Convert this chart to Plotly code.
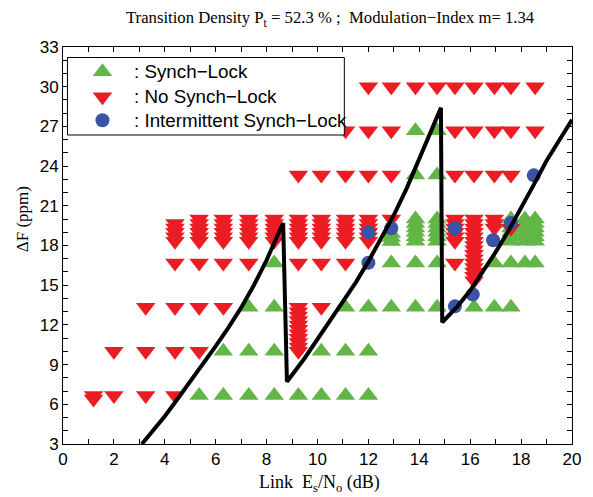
import plotly.graph_objects as go

# ---------------- data ----------------
# Synch-Lock (green, triangle-up) single points
lock_x = [5.35, 6.3, 7.3, 8.3, 9.25, 10.15, 11.1, 12.0,
          6.3, 7.3, 8.3, 10.15, 11.1, 12.0,
          7.3, 8.3, 11.1, 12.0, 12.9, 13.85, 14.7, 16.15, 16.95, 17.6,
          8.3, 12.9, 13.85, 14.7, 16.95, 17.6, 18.15, 18.55,
          12.9, 12.9, 12.9,
          13.85, 14.7, 13.85, 14.7]
lock_y = [6.67] * 8 + [10.0] * 6 + [13.33] * 10 + [16.67] * 8 + \
         [18.9, 18.6, 18.3] + [23.33, 23.33, 26.67, 26.67]
# Synch-Lock stacked columns around 18-20 ppm
lock_stack_cols = [13.85, 14.7, 17.6, 18.15, 18.55]
stack_levels = [20.0, 19.67, 19.33, 19.0, 18.67, 18.33]

# No Synch-Lock (red, triangle-down) single points
nolock_x = [1.2, 1.2, 2.0, 3.25, 4.4,
            2.0, 3.25, 4.4, 5.35,
            3.25, 4.4, 5.35, 6.3, 10.15,
            4.4, 5.35, 6.3, 7.3, 9.25, 10.15, 11.1, 15.4,
            12.9, 17.6,
            9.25, 10.15, 11.1, 12.0, 12.9, 15.4, 16.15, 16.95, 17.6,
            11.1, 12.0, 12.9, 15.4, 16.15, 16.95, 17.6, 18.55,
            12.0, 12.9, 13.85, 14.7, 15.4, 16.15, 16.95, 17.6, 18.55]
nolock_y = [6.67, 6.4, 6.67, 6.67, 6.67,
            10.0, 10.0, 10.0, 10.0,
            13.33, 13.33, 13.33, 13.33, 13.33,
            16.67, 16.67, 16.67, 16.67, 16.67, 16.67, 16.67, 16.67,
            20.0, 19.3] + [23.33] * 9 + [26.67] * 8 + [30.0] * 9
# No Synch-Lock stacked columns
nolock_stack_cols = [5.35, 6.3, 7.3, 8.3, 9.25, 10.15, 11.1, 12.0, 15.4]
nolock_stack_c4_x = 4.4
nolock_stack_c4_y = [19.67, 19.33, 19.0, 18.67, 18.33]
nolock_stack_c9_x = 9.25
nolock_stack_c9_y = [13.33, 13.0, 12.67, 12.33, 12.0, 11.67, 11.33, 11.0, 10.67, 10.33, 10.0]
nolock_stack_c17_x = 16.15
nolock_stack_c17_y = [20.0, 19.67, 19.33, 19.0, 18.67, 18.33, 18.0, 17.67, 17.33,
                      17.0, 16.67, 16.33, 16.0, 15.67, 15.33]
nolock_stack_c18_x = 16.95
nolock_stack_c18_y = [20.0, 19.67, 19.33]

# Intermittent Synch-Lock (blue circles)
inter_x = [12.0, 12.0, 12.9, 15.4, 15.4, 16.1, 16.9, 17.6, 18.5]
inter_y = [19.0, 16.7, 19.3, 19.3, 13.4, 14.3, 18.4, 19.7, 23.3]

# Boundary curve (sawtooth)
curve_x = [3.1, 3.5, 4.0, 4.5, 5.0, 5.5, 6.0, 6.5, 7.0, 7.5, 8.0, 8.65,
           8.8, 9.5, 10.0, 10.5, 11.0, 11.5, 12.0, 12.5, 13.0, 13.5, 14.0, 14.5, 14.85,
           14.9, 15.5, 16.0, 16.5, 17.0, 17.5, 18.0, 18.5, 19.0, 19.5, 20.0]
curve_y = [3.0, 3.9, 5.1, 6.4, 7.7, 9.0, 10.4, 11.8, 13.3, 15.0, 16.9, 19.7,
           7.7, 9.5, 10.9, 12.3, 13.7, 15.2, 16.8, 18.5, 20.3, 22.3, 24.5, 26.8, 28.4,
           12.2, 13.4, 14.6, 16.0, 17.5, 19.1, 20.8, 22.6, 24.4, 26.0, 27.5]

x_ticks = [0, 2, 4, 6, 8, 10, 12, 14, 16, 18, 20]
y_ticks = [3, 6, 9, 12, 15, 18, 21, 24, 27, 30, 33]

legend_labels = [": Synch\u2212Lock", ": No Synch\u2212Lock", ": Intermittent Synch\u2212Lock"]

# ---------------- assemble ----------------
GREEN = "#62B646"
RED = "#EC1C24"
BLUE = "#3A53A4"
SYMBOLS = ["triangle-up", "triangle-down", "circle"]
COLORS = [GREEN, RED, BLUE]
SIZES = [17, 17, 14]

g_x = list(lock_x)
g_y = list(lock_y)
for c in lock_stack_cols:
    for lv in stack_levels:
        g_x.append(c)
        g_y.append(lv)

r_x = list(nolock_x)
r_y = list(nolock_y)
for c in nolock_stack_cols:
    for lv in stack_levels:
        r_x.append(c)
        r_y.append(lv)
for cx, cys in [(nolock_stack_c4_x, nolock_stack_c4_y),
                (nolock_stack_c9_x, nolock_stack_c9_y),
                (nolock_stack_c17_x, nolock_stack_c17_y),
                (nolock_stack_c18_x, nolock_stack_c18_y)]:
    for v in cys:
        r_x.append(cx)
        r_y.append(v)

# page body has an 8px margin: work in reference pixels and shift by OFF
OFF = 8
W, H = 593 - OFF, 497 - OFF
PL, PT, PR, PB = 63 - OFF, 47 - OFF, 575 - OFF, 444 - OFF   # plot area in figure px
PW, PH = PR - PL, PB - PT


def px_x(xr):  # reference px -> paper / overlay x
    return (xr - OFF - PL) / PW


def px_y(yr):  # reference px -> paper / overlay y
    return (PB - (yr - OFF)) / PH


fig = go.Figure()
fig.add_trace(go.Scatter(x=g_x, y=g_y, mode="markers", name=legend_labels[0],
                         showlegend=False,
                         marker=dict(symbol=SYMBOLS[0], size=SIZES[0], color=GREEN,
                                     opacity=1, line=dict(width=0))))
fig.add_trace(go.Scatter(x=r_x, y=r_y, mode="markers", name=legend_labels[1],
                         showlegend=False,
                         marker=dict(symbol=SYMBOLS[1], size=SIZES[1], color=RED,
                                     opacity=1, line=dict(width=0))))
fig.add_trace(go.Scatter(x=inter_x, y=inter_y, mode="markers", name=legend_labels[2],
                         showlegend=False,
                         marker=dict(symbol=SYMBOLS[2], size=SIZES[2], color=BLUE,
                                     opacity=1, line=dict(width=0))))
fig.add_trace(go.Scatter(x=curve_x, y=curve_y, mode="lines", showlegend=False,
                         line=dict(color="black", width=4)))

# ---- legend box (drawn on an invisible overlay axis so it sits above the data) ----
bx0, bx1, by0, by1 = px_x(67.5), px_x(346), px_y(57.5), px_y(135)
fig.add_trace(go.Scatter(x=[bx0, bx1, bx1, bx0, bx0], y=[by0, by0, by1, by1, by0],
                         xaxis="x2", yaxis="y2", mode="lines", fill="toself",
                         fillcolor="white", line=dict(color="black", width=1),
                         showlegend=False, hoverinfo="skip"))
leg_rows = [71.7, 96.7, 120.3]
fig.add_trace(go.Scatter(x=[px_x(102.7)] * 3, y=[px_y(v) for v in leg_rows],
                         xaxis="x2", yaxis="y2", mode="markers", showlegend=False,
                         hoverinfo="skip",
                         marker=dict(symbol=SYMBOLS, size=SIZES, color=COLORS,
                                     opacity=1, line=dict(width=0))))

axis_common = dict(
    ticks="inside", ticklen=5, tickcolor="black", tickwidth=1,
    showline=True, linecolor="black", linewidth=1, mirror="allticks",
    showgrid=False, zeroline=False,
    tickfont=dict(family="Liberation Sans, Arial", size=17, color="black"),
)

SERIF = "Liberation Serif, Times New Roman"
SANS = "Liberation Sans, Arial"

annotations = [
    dict(text="Transition Density P<sub>t</sub> = 52.3 % ;\u00a0\u00a0Modulation\u2212Index m= 1.34",
         xref="paper", yref="paper", x=px_x(332), y=px_y(19),
         xanchor="center", yanchor="middle", showarrow=False,
         font=dict(family=SERIF, size=16.7, color="black")),
    dict(text="Link\u00a0\u00a0E<sub>s</sub>/N<sub>o</sub> (dB)", xref="paper", yref="paper",
         x=px_x(321), y=px_y(483),
         xanchor="center", yanchor="middle", showarrow=False,
         font=dict(family=SERIF, size=18, color="black")),
    dict(text="\u0394F (ppm)", xref="paper", yref="paper",
         x=px_x(22), y=px_y(219),
         xanchor="center", yanchor="middle", showarrow=False, textangle=-90,
         font=dict(family=SERIF, size=17, color="black")),
]
for lab, row in zip(legend_labels, leg_rows):
    annotations.append(dict(text=lab, xref="paper", yref="paper",
                            x=px_x(132), y=px_y(row), xanchor="left", yanchor="middle",
                            showarrow=False,
                            font=dict(family=SANS, size=18.8, color="black")))

fig.update_layout(
    width=W, height=H,
    margin=dict(l=PL, r=W - PR, t=PT, b=H - PB, pad=0),
    paper_bgcolor="white", plot_bgcolor="white",
    xaxis=dict(range=[0, 20], tickvals=x_ticks,
               minor=dict(dtick=1, tick0=0, ticks="inside", ticklen=5, tickcolor="black"),
               **axis_common),
    yaxis=dict(range=[3, 33], tickvals=y_ticks,
               minor=dict(dtick=1, tick0=3, ticks="inside", ticklen=5, tickcolor="black"),
               **axis_common),
    xaxis2=dict(overlaying="x", anchor="y2", range=[0, 1], visible=False, fixedrange=True),
    yaxis2=dict(overlaying="y", anchor="x2", range=[0, 1], visible=False, fixedrange=True),
    showlegend=False,
    annotations=annotations,
)

fig.write_html("out.html")
